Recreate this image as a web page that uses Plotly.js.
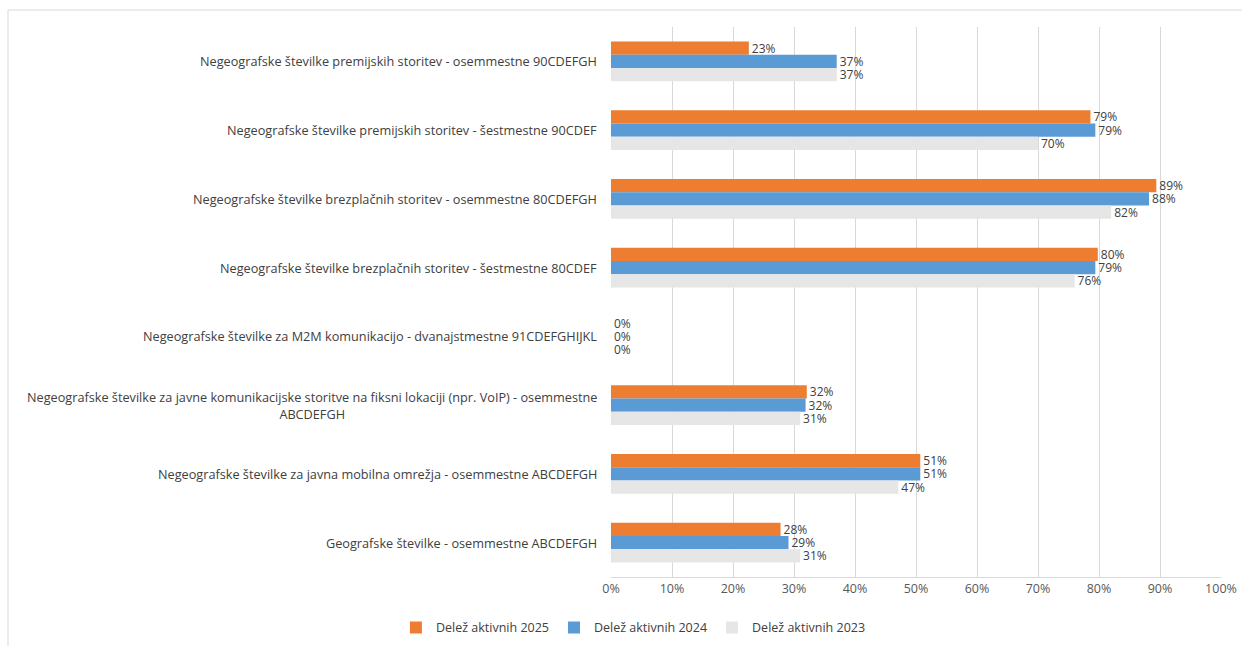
<!DOCTYPE html>
<html>
<head>
<meta charset="utf-8">
<script src="https://cdn.plot.ly/plotly-3.0.1.min.js"></script>
<style>html,body{margin:0;padding:0;background:#fff;}#chart{width:1242px;height:646px;}</style>
</head>
<body>
<div id="chart"></div>
<script>
const categories = [
  "Negeografske številke premijskih storitev - osemmestne 90CDEFGH",
  "Negeografske številke premijskih storitev - šestmestne 90CDEF",
  "Negeografske številke brezplačnih storitev - osemmestne 80CDEFGH",
  "Negeografske številke brezplačnih storitev - šestmestne 80CDEF",
  "Negeografske številke za M2M komunikacijo - dvanajstmestne 91CDEFGHIJKL",
  "Negeografske številke za javne komunikacijske storitve na fiksni lokaciji (npr. VoIP) - osemmestne<br>ABCDEFGH",
  "Negeografske številke za javna mobilna omrežja - osemmestne ABCDEFGH",
  "Geografske številke - osemmestne ABCDEFGH"
];
const seriesNames = ["Delež aktivnih 2025", "Delež aktivnih 2024", "Delež aktivnih 2023"];
const share2025 = [0.226, 0.786, 0.894, 0.798, 0, 0.321, 0.507, 0.278];
const share2024 = [0.370, 0.794, 0.882, 0.794, 0, 0.319, 0.507, 0.291];
const share2023 = [0.370, 0.700, 0.820, 0.760, 0, 0.310, 0.471, 0.310];
const colors = ["#ED7D31", "#5B9BD5", "#E7E6E6"];
const xTicks = [0, 0.1, 0.2, 0.3, 0.4, 0.5, 0.6, 0.7, 0.8, 0.9, 1.0];

const font = "Open Sans, Noto Sans, sans-serif";
const series = [share2025, share2024, share2023];
const traces = series.map((vals, i) => ({
  type: "bar",
  orientation: "h",
  name: seriesNames[i],
  y: categories,
  x: vals,
  marker: {color: colors[i], line: {width: 0}},
  text: vals.map(v => Math.round(v * 100) + "%"),
  textposition: "outside",
  constraintext: "none",
  cliponaxis: false,
  textfont: {family: font, size: 12, color: "#404040"},
  hoverinfo: "skip"
}));

const annotations = categories.map(c => ({
  xref: "paper", yref: "y", x: 0, y: c,
  xanchor: "right", yanchor: "middle", xshift: -12,
  text: c, showarrow: false, align: "center",
  font: {family: font, size: 12.7, color: "#404040"}
}));

const layout = {
  width: 1242, height: 646,
  margin: {l: 611, r: 21, t: 27, b: 69},
  paper_bgcolor: "#fff", plot_bgcolor: "#fff",
  barmode: "group", bargap: 0.42, bargroupgap: 0,
  showlegend: true,
  legend: {
    orientation: "h", xref: "container", yref: "container",
    x: 0.51, xanchor: "center", y: 0.005, yanchor: "bottom",
    font: {family: font, size: 12.5, color: "#404040"},
    itemwidth: 30, traceorder: "normal"
  },
  xaxis: {
    range: [0, 1], tickvals: xTicks, tickformat: ".0%",
    showgrid: true, gridcolor: "#D9D9D9", gridwidth: 1,
    zeroline: false, showline: true, linecolor: "#D9D9D9",
    ticks: "", fixedrange: true,
    tickfont: {family: font, size: 12.5, color: "#595959"}
  },
  yaxis: {
    type: "category", autorange: "reversed",
    showticklabels: false, showgrid: false, zeroline: false,
    showline: false, ticks: "", fixedrange: true
  },
  annotations: annotations,
  shapes: [{
    type: "rect", xref: "paper", yref: "paper",
    x0: -0.9885, x1: 1.2, y0: -0.3, y1: 1.0309,
    line: {color: "#D9D9D9", width: 1}, fillcolor: "rgba(0,0,0,0)", layer: "below"
  }]
};

Plotly.newPlot("chart", traces, layout, {displayModeBar: false, staticPlot: true});
</script>
</body>
</html>
